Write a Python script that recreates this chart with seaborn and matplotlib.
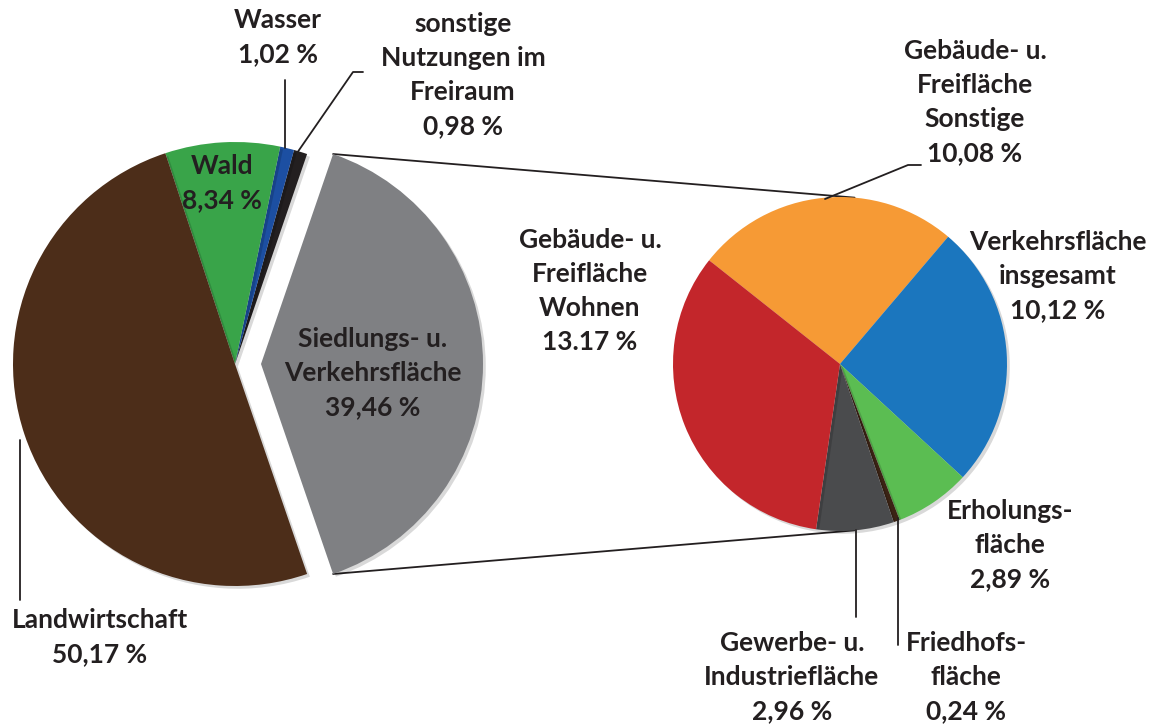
import matplotlib
matplotlib.use("Agg")
import matplotlib.pyplot as plt
import matplotlib.patheffects as pe
import numpy as np
import seaborn as sns

# left pie: Flächennutzung
main_labels = ["Siedlungs- u.\nVerkehrsfläche", "sonstige\nNutzungen im\nFreiraum", "Wasser", "Wald", "Landwirtschaft"]
main_values = [39.46, 0.98, 1.02, 8.34, 50.17]
main_text = ["39,46 %", "0,98 %", "1,02 %", "8,34 %", "50,17 %"]
main_colors = ["#7F8083", "#231F20", "#1C4FA2", "#39A449", "#4C2D19"]

# right pie: Aufteilung Siedlungs- u. Verkehrsfläche
sub_labels = ["Gebäude- u.\nFreifläche\nSonstige", "Verkehrsfläche\ninsgesamt", "Erholungs-\nfläche",
              "Friedhofs-\nfläche", "Gewerbe- u.\nIndustriefläche", "Gebäude- u.\nFreifläche\nWohnen"]
sub_values = [10.08, 10.12, 2.89, 0.24, 2.96, 13.17]
sub_text = ["10,08 %", "10,12 %", "2,89 %", "0,24 %", "2,96 %", "13.17 %"]
sub_colors = ["#F69A35", "#1B76BE", "#5BBD52", "#3B2314", "#4A4B4D", "#C3262B"]

sns.set_theme(style="white")
plt.rcParams["font.family"] = ["Lato", "DejaVu Sans"]

W, H = 1155, 728
fig = plt.figure(figsize=(W / 100, H / 100), dpi=100)
ax = fig.add_axes([0, 0, 1, 1])

def py(y):
    # pixel row -> data y
    return H - y

shadow = [pe.SimplePatchShadow(offset=(2, -2), shadow_rgbFace="#000000", alpha=0.15), pe.Normal()]

c1 = (235, py(364))
r1 = 222
explode = 26  # data units (pixels)
half = main_values[0] / sum(main_values) * 360 / 2
wedges1, _ = ax.pie(main_values, colors=main_colors, startangle=-half, counterclock=True,
                    center=c1, radius=r1, explode=[explode, 0, 0, 0, 0],
                    wedgeprops=dict(linewidth=0), frame=True)

c2 = (840, py(364))
r2 = 167
wedges2, _ = ax.pie(sub_values, colors=sub_colors, startangle=141.6, counterclock=False,
                    center=c2, radius=r2, wedgeprops=dict(linewidth=0), frame=True)

for w in wedges1 + wedges2:
    w.set_path_effects(shadow)

ax.set_xlim(0, W)
ax.set_ylim(0, H)
ax.set_aspect("equal")
ax.axis("off")

# connector lines from exploded wedge to the second pie
ex = c1[0] + explode
for sgn in (1, -1):
    a = np.deg2rad(sgn * half)
    p0 = (ex + r1 * np.cos(a), c1[1] + r1 * np.sin(a))
    b = np.deg2rad(sgn * 85)
    p1 = (c2[0] + r2 * np.cos(b), c2[1] + r2 * np.sin(b))
    ax.plot([p0[0], p1[0]], [p0[1], p1[1]], color="#231F20", lw=1.3, zorder=0)

txt = dict(ha="center", va="center", fontsize=19, fontweight="bold", color="#231F20", linespacing=1.5)

def label(x, y, name, val):
    ax.text(x, py(y), name + "\n" + val, **txt)

# left pie labels
label(373, 373, main_labels[0], main_text[0])
label(463, 75, main_labels[1], main_text[1])
label(278, 37, main_labels[2], main_text[2])
label(222, 183, main_labels[3], main_text[3])
label(100, 637, main_labels[4], main_text[4])

# right pie labels
label(975, 102, sub_labels[0], sub_text[0])
label(1058, 276, sub_labels[1], sub_text[1])
label(1010, 545, sub_labels[2], sub_text[2])
label(966, 677, sub_labels[3], sub_text[3])
label(792, 677, sub_labels[4], sub_text[4])
label(590, 291, sub_labels[5], sub_text[5])

# leader lines
lk = dict(color="#231F20", lw=1.3)
ax.plot([285, 285], [py(80), py(148)], **lk)
ax.plot([297, 353, 363], [py(153), py(72), py(72)], **lk)
ax.plot([20, 20], [py(440), py(600)], **lk)
ax.plot([825, 908, 921], [py(199), py(165), py(165)], **lk)
ax.plot([856, 856], [py(530), py(617)], **lk)
ax.plot([898, 898], [py(518), py(645)], **lk)

fig.savefig("out.png", dpi=100)
